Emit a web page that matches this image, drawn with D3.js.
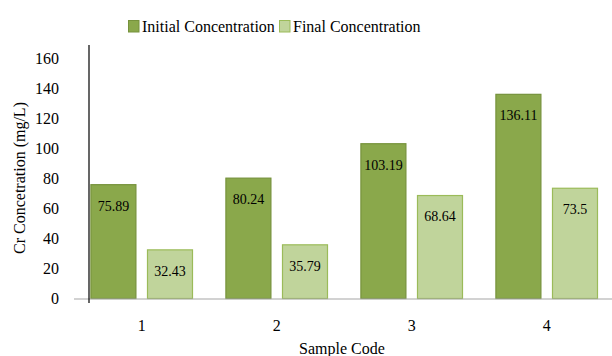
<!DOCTYPE html>
<html><head><meta charset="utf-8">
<script src="https://cdn.jsdelivr.net/npm/d3@7"></script>
<style>body{margin:0;background:#fff}svg{display:block}</style>
</head><body><svg id="c" width="612" height="356"></svg>
<script>
const categories = ["1", "2", "3", "4"];
const seriesNames = ["Initial Concentration", "Final Concentration"];
const initialValues = [75.89, 80.24, 103.19, 136.11];
const finalValues = [32.43, 35.79, 68.64, 73.5];
const yTicks = [0, 20, 40, 60, 80, 100, 120, 140, 160];
const fills = ["#8aa84b", "#c0d49b"];
const strokes = ["#76923c", "#9bbb59"];

// pick an installed serif font
const ctx = document.createElement("canvas").getContext("2d");
function w(f) { ctx.font = "40px " + f; return ctx.measureText("Initial Concentration 0123456789").width; }
const candidates = ["Liberation Serif", "Tinos", "Times New Roman", "Noto Serif", "DejaVu Serif"];
let font = "serif", scale = 1;
for (const c of candidates) {
  if (w(`'${c}', monospace`) !== w("monospace") && w(`'${c}', sans-serif`) !== w("sans-serif")) { font = c; break; }
}
if (font === "DejaVu Serif" || font === "Noto Serif") scale = 0.82;
const fs = v => v * scale;

const svg = d3.select("#c").attr("font-family", `'${font}', serif`);
const x0 = d3.scaleBand().domain(categories).range([74.2, 614.2]).paddingInner(0).paddingOuter(0);
const x1 = d3.scaleBand().domain(seriesNames).range([16.2, 135 - 16.2]).paddingInner(0.187);
const y = d3.scaleLinear().domain([0, 160]).range([298.5, 58.5]);

const data = categories.map((c, i) => ({c, vals: [initialValues[i], finalValues[i]]}));

svg.append("g").selectAll("text").data(yTicks).join("text")
  .attr("x", 59).attr("y", d => y(d)).attr("dy", "0.35em")
  .attr("text-anchor", "end").attr("font-size", fs(16)).text(d => d);

const g = svg.append("g").selectAll("g").data(data).join("g")
  .attr("transform", d => `translate(${x0(d.c)},0)`);
g.selectAll("rect").data(d => d.vals.map((v, k) => ({v, k}))).join("rect")
  .attr("x", d => x1(seriesNames[d.k]) + 0.5)
  .attr("width", x1.bandwidth() - 1)
  .attr("y", d => y(d.v))
  .attr("height", d => y(0) - y(d.v))
  .attr("fill", d => fills[d.k]).attr("stroke", d => strokes[d.k]).attr("stroke-width", 1.2);
g.selectAll("text").data(d => d.vals.map((v, k) => ({v, k}))).join("text")
  .attr("x", d => x1(seriesNames[d.k]) + x1.bandwidth() / 2)
  .attr("y", d => y(d.v) + 21).attr("dy", "0.35em")
  .attr("text-anchor", "middle").attr("font-size", fs(14)).text(d => d.v);

svg.append("line").attr("x1", 74).attr("x2", 612).attr("y1", y(0) + 0.5).attr("y2", y(0) + 0.5)
  .attr("stroke", "#a6a6a6").attr("stroke-width", 1.2);
svg.append("line").attr("x1", 89).attr("x2", 89).attr("y1", 45).attr("y2", 303)
  .attr("stroke", "#000").attr("stroke-width", 1.2);

svg.append("g").selectAll("text").data(categories).join("text")
  .attr("x", d => x0(d) + x0.bandwidth() / 2).attr("y", 325).attr("dy", "0.35em")
  .attr("text-anchor", "middle").attr("font-size", fs(16)).text(d => d);

svg.append("text").attr("x", 342).attr("y", 348).attr("dy", "0.35em")
  .attr("text-anchor", "middle").attr("font-size", fs(16)).text("Sample Code");
svg.append("text").attr("transform", "translate(19,178) rotate(-90)").attr("dy", "0.35em")
  .attr("text-anchor", "middle").attr("font-size", fs(16)).text("Cr Concetration (mg/L)");

const legX = [128, 279];
const lg = svg.append("g").selectAll("g").data(seriesNames).join("g")
  .attr("transform", (d, i) => `translate(${legX[i]},20)`);
lg.append("rect").attr("width", 10.5).attr("height", 11.5).attr("x", 0.5).attr("y", 0.5)
  .attr("fill", (d, i) => fills[i]).attr("stroke", (d, i) => strokes[i]).attr("stroke-width", 1);
lg.append("text").attr("x", 14).attr("y", 6.5).attr("dy", "0.35em").attr("font-size", fs(16)).text(d => d);
</script></body></html>
